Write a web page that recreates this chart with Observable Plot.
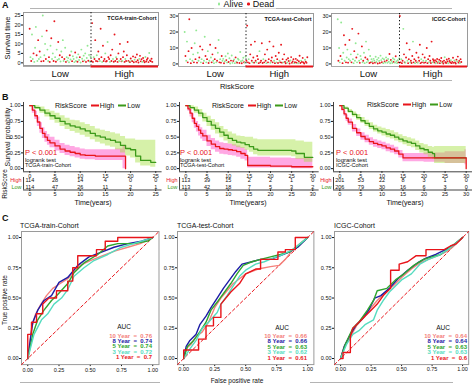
<!DOCTYPE html>
<html><head><meta charset="utf-8">
<script src="https://cdn.jsdelivr.net/npm/d3@7"></script>
<script src="https://cdn.jsdelivr.net/npm/@observablehq/plot@0.6"></script>
<style>
body{margin:0;background:#fff;font-family:"Liberation Sans",Arial,sans-serif;}
#root{position:relative;width:474px;height:385px;overflow:hidden;background:#fff;}
</style></head><body><div id="root"></div>
<script>
// ---------- data ----------
const cohorts = ["TCGA-train-Cohort","TCGA-test-Cohort","ICGC-Cohort"];
const statusLabels = ["Alive","Dead"];
const statusColors = ["#92e892","#e8161c"];
const riskGroups = ["High","Low"];
const riskColors = ["#e8141a","#3c9a1a"];

// Panel A: survival time (years) and status (1 = dead), patients ordered by risk score
const trainLowTime = [18,3,1,15,2,5,0.5,8,19,4, 1,12,2,6,3,0.8,14,25,1,4, 10,2,17,7,1,3,0.5,9,13,2, 5,1,22,3,0.6,7,1.5,11,2,4, 0.7,6,3,12,1,2,8,0.5,3,1.2, 2.5,0.3,4,1.8,6,0.9,3.5,2,0.4,5.5, 1,2.8,0.6,4.5,1.5,3,0.2,7,2.2,0.8, 3.8,1.3,5,0.5,2.6,9,1.1,4.2,0.7,3.2];
const trainLowDead = [1,0,1,0,0,1,0,0,0,1, 0,1,0,1,0,1,0,0,1,0, 0,1,1,0,0,1,1,0,1,0, 0,1,1,0,1,0,0,1,0,1, 0,0,1,0,0,1,0,1,0,0, 0,0,1,0,0,1,0,0,0,1, 0,0,1,0,0,1,0,0,0,1, 0,0,0,1,0,0,1,0,0,0];
const trainHighTime = [1,21,0.5,3,2,12,1,4,0.8,6, 2,1,18,3,0.5,9,1,2,5,0.7, 1,11,3,2,0.5,4,1,7,2,0.6, 15,1,3,2,0.5,5,1,10,2,0.8, 1,3,6,0.5,2,1,4,11,1,0.6, 0.4,2.3,1.2,0.9,3.4,0.3,1.7,2.9,0.6,4.4, 1.4,0.2,2.1,3.7,0.8,1.9,0.5,2.6,1.1,0.3, 3.1,0.7,1.6,2.4,0.4,5.2,1.3,0.9,2.2,0.5];
const trainHighDead = [1,1,1,0,1,1,1,0,1,1, 1,0,1,1,0,1,1,1,0,1, 1,0,1,1,0,1,1,1,0,1, 1,1,0,1,1,1,0,1,1,1, 0,1,1,1,0,1,1,1,1,0, 1,1,0,1,1,1,0,1,1,1, 1,1,0,1,1,1,0,1,1,1, 0,1,1,1,1,0,1,1,1,1];
const testLowTime = [20,5,2,14,1,8,28,3,0.5,10, 2,6,1,13,3,21,0.8,7,2,4, 11,1,3,9,0.5,2,17,5,1,3, 8,0.6,2,12,4,1,6,2,0.5,3, 10,1,2,7,15,1,3,0.8,5,2, 3.2,0.4,1.6,4.8,2.4,0.9,6.5,1.2,3.6,0.3, 2.1,5.3,0.7,1.9,2.8,0.5,4.1,1.4,0.8,3.3, 2.6,0.6,7.5,1.7,0.4,2.2,3.9,1.1,0.9,4.6];
const testLowDead = [0,1,0,0,1,1,1,0,1,1, 0,0,1,0,1,0,1,0,0,1, 1,0,0,1,1,0,0,1,0,1, 0,1,0,1,0,1,1,0,0,1, 1,0,1,0,0,1,0,1,1,0, 0,1,0,0,1,0,0,1,0,0, 1,0,0,1,0,0,1,0,1,0, 0,1,0,0,1,0,0,1,0,0];
const testHighTime = [2,24,1,3,0.5,6,12,2,1,4, 0.8,14,2,1,5,3,0.5,8,1,2, 13,0.6,3,1,6,2,0.5,9,1,3, 14,0.7,2,4,1,11,2,0.5,5,1, 3,0.6,7,2,1,12,0.8,3,1,6, 1.3,0.4,2.7,0.9,3.6,1.8,0.3,2.2,4.3,0.7, 1.5,2.9,0.5,1.1,3.2,0.8,2.4,0.4,1.7,5.1, 0.6,2.1,1.2,3.8,0.9,0.3,2.6,1.4,0.7,4.2];
const testHighDead = [1,1,1,0,1,1,1,1,0,1, 1,1,1,0,1,1,1,0,1,1, 1,1,0,1,1,1,0,1,1,1, 1,0,1,1,1,1,0,1,1,0, 1,1,1,0,1,1,1,1,0,1, 1,1,1,0,1,1,1,0,1,1, 1,1,0,1,1,1,1,0,1,1, 1,0,1,1,1,1,0,1,1,1];
const icgcLowTime = [28,2,10,1,5,26,3,0.5,7,18, 2,12,1,4,9,0.8,3,15,2,6, 1,22,3,0.5,8,2,13,4,1,6, 19,2,0.7,5,3,11,1,2,7,0.5, 4,14,1,3,2,9,0.6,5,1,3, 1.5,0.4,3.2,2.1,0.8,4.5,1.2,2.7,0.3,3.8, 1.9,0.6,5.2,2.4,1.1,3.5,0.5,2.9,1.6,0.9, 4.1,2.2,0.7,3.1,1.4,6.2,0.4,2.5,1.8,0.6, 3.6,1.3,2.8,0.8,4.8,1.7,0.5,2.3,1.0,3.4];
const icgcLowDead = [0,1,0,0,1,0,0,1,0,1, 0,1,1,0,0,1,0,1,0,0, 1,1,0,0,1,0,0,1,0,0, 1,0,1,0,0,1,0,1,0,0, 1,0,0,1,0,0,1,0,1,0, 0,1,0,0,1,0,0,0,1,0, 0,1,0,0,1,0,0,0,1,0, 0,1,0,0,0,1,0,1,0,0, 0,1,0,0,1,0,0,0,1,0];
const icgcHighTime = [30,1,3,0.5,2,22,6,1,0.8,4, 13,2,0.5,3,9,1,2,0.6,5,14, 1,3,0.5,2,7,1,0.8,4,2,12, 0.5,3,1,6,2,0.7,4,1,2,10, 0.5,3,1,5,2,0.6,14,1,3,2, 0.9,2.3,0.4,1.6,3.1,0.7,1.2,2.6,0.5,1.9, 3.7,0.8,1.4,0.3,2.1,4.2,1.1,0.6,2.8,1.5, 0.4,3.3,1.8,0.9,2.4,0.5,1.3,3.9,0.7,2.2, 1.0,0.3,2.7,1.6,4.6,0.8,1.9,0.6,3.0,1.2];
const icgcHighDead = [1,1,0,1,1,0,1,1,0,1, 1,0,1,1,1,0,1,1,1,0, 1,1,0,1,1,1,0,1,1,1, 1,0,1,1,0,1,1,1,0,1, 1,1,0,1,1,1,1,0,1,1, 1,1,0,1,1,1,0,1,1,1, 1,0,1,1,1,0,1,1,1,1, 0,1,1,1,0,1,1,1,1,0, 1,1,1,0,1,1,1,0,1,1];

// Panel B: Kaplan-Meier [time, survival, lower CI, upper CI]
const trainHighKM = [[0,1,1,1],[0.5,0.93,0.88,0.98],[1,0.84,0.78,0.91],[1.5,0.74,0.67,0.82],[2,0.64,0.56,0.73],[2.5,0.56,0.48,0.65],[3,0.5,0.42,0.59],[3.5,0.45,0.37,0.54],[4,0.41,0.33,0.5],[5,0.36,0.28,0.45],[6,0.31,0.24,0.4],[7,0.28,0.21,0.37],[8,0.26,0.19,0.35],[9,0.24,0.17,0.33],[10,0.22,0.15,0.31],[11,0.21,0.14,0.3],[13,0.2,0.13,0.3],[15,0.2,0.13,0.3],[17,0.2,0.13,0.31],[18.5,0.2,0,0.35],[19,0,0,0]];
const trainLowKM = [[0,1,1,1],[1,0.97,0.94,1],[2,0.93,0.88,0.98],[3,0.88,0.82,0.94],[4,0.84,0.77,0.91],[5,0.8,0.72,0.88],[6,0.75,0.67,0.84],[7,0.71,0.62,0.8],[8,0.68,0.59,0.77],[9,0.66,0.56,0.76],[10,0.63,0.53,0.73],[11,0.6,0.5,0.7],[12,0.56,0.46,0.67],[13,0.52,0.42,0.63],[14,0.5,0.39,0.61],[15,0.47,0.36,0.59],[16,0.45,0.34,0.57],[17,0.42,0.3,0.55],[18,0.37,0.25,0.51],[19,0.32,0.2,0.47],[20,0.3,0.17,0.47],[21,0.2,0.09,0.45],[22,0.13,0.04,0.45],[24,0.1,0.02,0.45],[25,0.1,0.02,0.45]];
const testHighKM = [[0,1,1,1],[0.5,0.95,0.91,0.99],[1,0.88,0.82,0.94],[1.5,0.8,0.73,0.87],[2,0.72,0.64,0.8],[2.5,0.67,0.58,0.75],[3,0.61,0.52,0.7],[3.5,0.56,0.47,0.65],[4,0.52,0.43,0.61],[5,0.44,0.35,0.53],[6,0.39,0.3,0.48],[7,0.35,0.26,0.44],[8,0.32,0.23,0.41],[9,0.31,0.22,0.4],[10,0.3,0.21,0.39],[11,0.29,0.2,0.38],[12,0.27,0.18,0.36],[13,0.24,0.15,0.33],[14,0.21,0.12,0.3],[14.6,0.05,0.01,0.18],[20,0.04,0.01,0.17],[25,0.03,0,0.16],[30,0.03,0,0.16]];
const testLowKM = [[0,1,1,1],[1,0.97,0.94,1],[2,0.93,0.88,0.98],[3,0.88,0.82,0.94],[4,0.81,0.74,0.88],[5,0.75,0.67,0.83],[6,0.69,0.61,0.78],[7,0.64,0.55,0.73],[8,0.58,0.49,0.67],[9,0.53,0.44,0.62],[10,0.48,0.39,0.58],[11,0.45,0.36,0.55],[12,0.42,0.33,0.52],[13,0.41,0.32,0.51],[14,0.38,0.29,0.5],[15,0.35,0.26,0.5],[16,0.31,0.22,0.47],[17,0.29,0.2,0.46],[20,0.29,0.2,0.46],[25,0.28,0.19,0.46],[26,0.24,0.15,0.44],[28,0.18,0.1,0.42],[30,0.18,0.1,0.42]];
const icgcHighKM = [[0,1,1,1],[0.5,0.94,0.91,0.97],[1,0.87,0.83,0.91],[1.5,0.8,0.75,0.85],[2,0.74,0.69,0.79],[3,0.64,0.58,0.7],[4,0.57,0.51,0.63],[5,0.51,0.45,0.57],[6,0.47,0.41,0.53],[7,0.43,0.37,0.49],[8,0.4,0.34,0.46],[9,0.38,0.32,0.44],[10,0.36,0.3,0.42],[11,0.33,0.27,0.39],[12,0.31,0.25,0.37],[13,0.28,0.22,0.34],[14,0.23,0.17,0.29],[15,0.17,0.11,0.24],[20,0.17,0.1,0.25],[25,0.17,0.08,0.27],[29.7,0.17,0.06,0.3],[30,0,0,0]];
const icgcLowKM = [[0,1,1,1],[1,0.96,0.94,0.98],[2,0.91,0.88,0.94],[3,0.86,0.82,0.9],[4,0.81,0.77,0.86],[5,0.76,0.72,0.81],[6,0.72,0.67,0.77],[7,0.67,0.62,0.73],[8,0.63,0.58,0.69],[9,0.6,0.55,0.66],[10,0.58,0.52,0.64],[11,0.55,0.49,0.62],[12,0.53,0.47,0.6],[13,0.5,0.44,0.57],[14,0.47,0.41,0.54],[15,0.44,0.38,0.51],[16,0.42,0.35,0.49],[17,0.4,0.33,0.47],[18,0.36,0.29,0.44],[19,0.32,0.25,0.4],[20,0.3,0.22,0.38],[21,0.26,0.18,0.35],[22,0.24,0.15,0.34],[22.5,0.17,0.08,0.35],[30,0.17,0.08,0.35]];

// numbers at risk
const trainRiskTimes = [0,5,10,15,20,25];
const trainRiskHigh = [114,28,14,4,0,0];
const trainRiskLow = [114,47,26,11,2,1];
const testRiskTimes = [0,5,10,15,20,25,30];
const testRiskHigh = [113,39,15,2,2,1,0];
const testRiskLow = [113,42,18,7,5,3,2];
const icgcRiskTimes = [0,5,10,15,20,25,30];
const icgcRiskHigh = [201,53,22,8,3,1,0];
const icgcRiskLow = [206,79,30,16,6,3,0];

// Panel C: ROC curves [FPR, TPR]
const yearLabels = ["10 Year","8 Year","5 Year","3 Year","1 Year"];
const yearColors = ["#f4817b","#1c1ca6","#2ea62e","#55dcc0","#e8141a"];
const trainAUC = [0.76,0.74,0.74,0.72,0.7];
const testAUC = [0.66,0.66,0.63,0.62,0.61];
const icgcAUC = [0.64,0.64,0.63,0.63,0.6];
const trainRoc10 = [[0,0],[0.03,0.25],[0.06,0.36],[0.1,0.44],[0.15,0.52],[0.2,0.58],[0.26,0.62],[0.32,0.66],[0.37,0.72],[0.42,0.77],[0.5,0.81],[0.6,0.85],[0.7,0.89],[0.8,0.92],[0.9,0.95],[1,1]];
const trainRoc8 = [[0,0],[0.04,0.3],[0.08,0.4],[0.13,0.48],[0.19,0.52],[0.25,0.63],[0.32,0.67],[0.4,0.77],[0.49,0.84],[0.59,0.88],[0.69,0.92],[0.8,0.95],[0.91,0.97],[1,1]];
const trainRoc5 = [[0,0],[0.04,0.2],[0.08,0.32],[0.13,0.4],[0.19,0.48],[0.24,0.53],[0.32,0.62],[0.37,0.71],[0.45,0.79],[0.56,0.86],[0.64,0.93],[0.72,0.95],[0.85,0.95],[0.96,0.97],[1,1]];
const trainRoc3 = [[0,0],[0.05,0.2],[0.11,0.32],[0.16,0.37],[0.21,0.45],[0.27,0.5],[0.32,0.57],[0.37,0.68],[0.45,0.75],[0.53,0.81],[0.64,0.86],[0.75,0.92],[0.88,0.96],[1,1]];
const trainRoc1 = [[0,0],[0,0.2],[0.03,0.2],[0.03,0.3],[0.07,0.3],[0.07,0.37],[0.12,0.37],[0.12,0.45],[0.17,0.5],[0.23,0.5],[0.23,0.56],[0.32,0.56],[0.32,0.64],[0.36,0.64],[0.36,0.75],[0.4,0.75],[0.4,0.85],[0.55,0.85],[0.55,0.9],[0.62,0.9],[0.62,0.97],[0.72,0.97],[0.72,1],[1,1]];
const testRoc10 = [[0,0],[0.02,0.08],[0.06,0.12],[0.1,0.18],[0.15,0.22],[0.2,0.3],[0.25,0.42],[0.3,0.5],[0.35,0.56],[0.4,0.62],[0.45,0.66],[0.5,0.7],[0.6,0.74],[0.7,0.76],[0.77,0.77],[0.82,0.82],[0.88,0.9],[0.95,0.96],[1,1]];
const testRoc8 = [[0,0],[0.02,0.1],[0.05,0.15],[0.1,0.2],[0.13,0.28],[0.18,0.35],[0.22,0.42],[0.27,0.5],[0.32,0.58],[0.37,0.65],[0.42,0.72],[0.47,0.78],[0.55,0.8],[0.62,0.82],[0.7,0.82],[0.78,0.85],[0.85,0.88],[0.92,0.92],[1,1]];
const testRoc5 = [[0,0],[0.03,0.1],[0.08,0.15],[0.13,0.22],[0.18,0.3],[0.22,0.4],[0.28,0.48],[0.33,0.55],[0.38,0.62],[0.43,0.7],[0.48,0.77],[0.55,0.8],[0.62,0.82],[0.7,0.84],[0.78,0.86],[0.85,0.88],[0.92,0.93],[1,1]];
const testRoc3 = [[0,0],[0.05,0.08],[0.1,0.15],[0.15,0.25],[0.2,0.3],[0.27,0.38],[0.3,0.45],[0.35,0.52],[0.4,0.6],[0.45,0.68],[0.5,0.73],[0.58,0.78],[0.65,0.8],[0.72,0.83],[0.8,0.86],[0.88,0.9],[1,1]];
const testRoc1 = [[0,0],[0,0.07],[0.12,0.07],[0.12,0.16],[0.18,0.16],[0.18,0.27],[0.24,0.27],[0.24,0.34],[0.3,0.34],[0.3,0.45],[0.38,0.55],[0.45,0.62],[0.5,0.7],[0.58,0.74],[0.62,0.74],[0.62,0.82],[0.76,0.82],[0.76,0.88],[0.82,0.88],[0.82,0.9],[0.9,0.9],[0.9,1],[0.95,1],[1,1]];
const icgcRoc10 = [[0,0],[0.03,0.1],[0.08,0.18],[0.13,0.27],[0.2,0.35],[0.25,0.42],[0.3,0.48],[0.37,0.55],[0.43,0.6],[0.5,0.67],[0.58,0.74],[0.65,0.79],[0.72,0.82],[0.8,0.85],[0.88,0.89],[0.95,0.95],[1,1]];
const icgcRoc8 = [[0,0],[0.03,0.1],[0.08,0.2],[0.13,0.28],[0.18,0.33],[0.23,0.4],[0.28,0.5],[0.33,0.52],[0.4,0.58],[0.47,0.66],[0.55,0.73],[0.63,0.79],[0.7,0.83],[0.78,0.86],[0.86,0.9],[0.93,0.94],[1,1]];
const icgcRoc5 = [[0,0],[0.04,0.12],[0.1,0.25],[0.15,0.3],[0.22,0.4],[0.27,0.48],[0.3,0.56],[0.38,0.58],[0.45,0.65],[0.52,0.7],[0.6,0.77],[0.68,0.82],[0.75,0.84],[0.82,0.86],[0.9,0.92],[1,1]];
const icgcRoc3 = [[0,0],[0.05,0.12],[0.1,0.2],[0.15,0.23],[0.2,0.28],[0.27,0.32],[0.3,0.4],[0.35,0.48],[0.4,0.55],[0.45,0.6],[0.5,0.65],[0.58,0.7],[0.65,0.78],[0.72,0.82],[0.8,0.85],[0.88,0.9],[1,1]];
const icgcRoc1 = [[0,0],[0.02,0],[0.02,0.05],[0.08,0.05],[0.08,0.18],[0.1,0.25],[0.15,0.3],[0.2,0.35],[0.25,0.4],[0.3,0.45],[0.35,0.52],[0.41,0.58],[0.41,0.73],[0.48,0.73],[0.48,0.78],[0.55,0.8],[0.62,0.85],[0.7,0.85],[0.7,0.9],[0.85,0.9],[0.9,0.93],[0.95,0.95],[1,1]];

// ---------- helpers ----------
const root = document.getElementById("root");
const FONT = '"Liberation Sans", Arial, sans-serif';

function mk(frame, pad, opts) {
  const width = frame.x1 - frame.x0 + pad.l + pad.r;
  const height = frame.y1 - frame.y0 + pad.t + pad.b;
  const svg = Plot.plot({
    ...opts, width, height,
    marginLeft: pad.l, marginRight: pad.r, marginTop: pad.t, marginBottom: pad.b,
    style: {background: "transparent", fontFamily: FONT, fontSize: "5.5px", color: "#111", overflow: "visible"}
  });
  const d = document.createElement("div");
  d.style.cssText = `position:absolute;left:${frame.x0 - pad.l}px;top:${frame.y0 - pad.t}px;width:${width}px;height:${height}px;`;
  d.appendChild(svg);
  root.appendChild(d);
}

function txt(s, x, y, o = {}) {
  const d = document.createElement("div");
  d.textContent = s;
  const tx = o.anchor === "end" ? "-100%" : o.anchor === "middle" || o.rotate ? "-50%" : "0";
  Object.assign(d.style, {
    position: "absolute", left: x + "px", top: y + "px", fontSize: (o.size || 7) + "px",
    color: o.color || "#111", fontWeight: o.weight || "normal", whiteSpace: "pre", lineHeight: "1",
    fontFamily: FONT, background: o.bg || "transparent",
    transform: `translate(${tx},-50%)` + (o.rotate ? " rotate(-90deg)" : "")
  });
  root.appendChild(d);
  return d;
}

function hline(x0, x1, y, color = "#b4b4b4") {
  const d = document.createElement("div");
  d.style.cssText = `position:absolute;left:${x0}px;top:${y}px;width:${x1 - x0}px;height:1px;background:${color};`;
  root.appendChild(d);
}

// ---------- Panel A ----------
function scatter(lowT, lowD, highT, highD, frame, yDom, yTicks, name) {
  const rows = [...lowT.map((t, i) => ({i: i + 1, t, d: lowD[i]})),
                ...highT.map((t, i) => ({i: lowT.length + i + 1, t, d: highD[i]}))];
  const n = rows.length, split = lowT.length + 0.5;
  const xDom = [1 - 0.05 * n, n + 0.05 * n];
  mk(frame, {l: 14, r: 2, t: 2, b: 2}, {
    x: {domain: xDom, axis: null},
    y: {domain: yDom, ticks: yTicks, tickSize: 2, tickPadding: 1, label: null},
    marks: [
      Plot.frame({stroke: "#9a9a9a"}),
      Plot.dot(rows, {x: "i", y: "t", r: 0.95, fill: d => statusColors[d.d], stroke: "none"}),
      Plot.ruleX([split], {stroke: "#111", strokeDasharray: "1.3,2.2", strokeWidth: 1}),
      Plot.text([name], {frameAnchor: "top-right", dx: -2, dy: 4, fontSize: 5.5, fontWeight: "bold"})
    ]
  });
  const groups = [
    {name: "Low", x1: xDom[0], x2: split, mid: (1 + lowT.length) / 2},
    {name: "High", x1: split, x2: xDom[1], mid: split + highT.length / 2 + 3}
  ];
  mk({x0: frame.x0, x1: frame.x1, y0: 66, y1: 76}, {l: 0, r: 0, t: 1, b: 4}, {
    x: {domain: xDom, axis: null},
    y: {domain: [0, 1], reverse: true, axis: null},
    marks: [
      Plot.ruleY([groups[0]], {y: () => 0, x1: "x1", x2: "x2", stroke: "#aaaaaa", strokeWidth: 1}),
      Plot.ruleY([groups[1]], {y: () => 0, x1: "x1", x2: "x2", stroke: "#e8141a", strokeWidth: 2}),
      Plot.text(groups, {x: "mid", y: () => 0.72, text: "name", fontSize: 9.5})
    ]
  });
}

hline(30, 452, 8);
hline(30, 452, 80);
scatter(trainLowTime, trainLowDead, trainHighTime, trainHighDead, {x0: 23, x1: 158, y0: 12, y1: 65}, [-1.4, 26.6], [0, 5, 10, 15, 20, 25], cohorts[0]);
scatter(testLowTime, testLowDead, testHighTime, testHighDead, {x0: 178, x1: 313, y0: 13, y1: 66}, [-1.6, 31.6], [0, 10, 20, 30], cohorts[1]);
scatter(icgcLowTime, icgcLowDead, icgcHighTime, icgcHighDead, {x0: 331, x1: 467, y0: 13, y1: 66}, [-1.6, 31.6], [0, 10, 20, 30], cohorts[2]);

txt("A", 2, 5, {size: 9, weight: "bold"});
txt("Survival time", 8, 38, {size: 7.5, rotate: true});
txt("RiskScore", 237, 87, {size: 7.5, anchor: "middle"});
{
  const lg = document.createElement("div");
  lg.style.cssText = `position:absolute;left:214px;top:4px;transform:translate(0,-50%);font:9px ${FONT};background:#fff;padding:0 2px;white-space:nowrap;line-height:1;color:#111;`;
  lg.innerHTML = statusLabels.map((s, i) =>
    `<span style="display:inline-block;width:2.4px;height:2.4px;border-radius:50%;background:${statusColors[i]};vertical-align:middle;margin:0 3px 0 2px"></span>${s}`).join(" ");
  root.appendChild(lg);
}

// ---------- Panel B ----------
function km(highKM, lowKM, frame, xDom, xTicks) {
  mk(frame, {l: 14, r: 2, t: 2, b: 7}, {
    x: {domain: xDom, ticks: xTicks, tickSize: 1.5, tickPadding: 0.5, label: null},
    y: {domain: [-0.05, 1.05], ticks: [0, 0.25, 0.5, 0.75, 1], tickFormat: ".2f", tickSize: 2, tickPadding: 1, label: null},
    marks: [
      Plot.areaY(highKM, {x: d => d[0], y1: d => d[2], y2: d => d[3], curve: "step-after", fill: "#ff3fc0", fillOpacity: 0.45}),
      Plot.areaY(lowKM, {x: d => d[0], y1: d => d[2], y2: d => d[3], curve: "step-after", fill: "#a4e040", fillOpacity: 0.45}),
      Plot.line(lowKM, {x: d => d[0], y: d => d[1], curve: "step-after", stroke: riskColors[1], strokeWidth: 1.3}),
      Plot.line(highKM, {x: d => d[0], y: d => d[1], curve: "step-after", stroke: riskColors[0], strokeWidth: 1.3}),
      Plot.ruleX([xDom[0]], {stroke: "#111", strokeWidth: 0.8}),
      Plot.ruleY([-0.05], {stroke: "#111", strokeWidth: 0.8})
    ]
  });
}
function riskTable(times, high, low, frame, xDom, xTicks) {
  const rows = [...times.map((t, i) => ({t, g: 0, n: high[i]})), ...times.map((t, i) => ({t, g: 1, n: low[i]}))];
  mk(frame, {l: 16, r: 2, t: 1, b: 7}, {
    x: {domain: xDom, ticks: xTicks, tickSize: 1.5, tickPadding: 0.5, label: null},
    y: {domain: [-0.5, 1.5], reverse: true, axis: null},
    marks: [
      Plot.text(rows, {x: "t", y: "g", text: d => String(d.n), fontSize: 5.5}),
      Plot.text(riskGroups, {y: (d, i) => i, frameAnchor: "left", textAnchor: "end", dx: -2, fill: (d, i) => riskColors[i], fontSize: 5.5}),
      Plot.ruleX([xDom[0]], {stroke: "#111", strokeWidth: 0.8}),
      Plot.ruleY([1.5], {stroke: "#111", strokeWidth: 0.8})
    ]
  });
}
function kmLegend(x, y) {
  const lg = document.createElement("div");
  lg.style.cssText = `position:absolute;left:${x}px;top:${y}px;transform:translate(0,-50%);font:7px ${FONT};white-space:nowrap;line-height:1;color:#111;`;
  lg.innerHTML = "RiskScore " + riskGroups.map((g, i) =>
    `<span style="display:inline-block;width:8px;height:1.6px;background:${riskColors[i]};vertical-align:middle;margin:0 1px 0 2px"></span>${g}`).join(" ");
  root.appendChild(lg);
}
function kmNotes(x, name) {
  txt("P < 0.001", x, 152.5, {size: 7.5, color: riskColors[0]});
  txt("logrank test", x, 159.5, {size: 6});
  txt(name, x, 166, {size: 5.5});
}

const kmFrames = [
  {x0: 22.7, x1: 161.3, dom: [-1.25, 26.25], ticks: [0, 5, 10, 15, 20, 25]},
  {x0: 178.65, x1: 318.35, dom: [-1.5, 31.5], ticks: [0, 5, 10, 15, 20, 25, 30]},
  {x0: 333, x1: 472, dom: [-1.5, 31.5], ticks: [0, 5, 10, 15, 20, 25, 30]}
];
const kmSets = [[trainHighKM, trainLowKM], [testHighKM, testLowKM], [icgcHighKM, icgcLowKM]];
const riskSets = [[trainRiskTimes, trainRiskHigh, trainRiskLow], [testRiskTimes, testRiskHigh, testRiskLow], [icgcRiskTimes, icgcRiskHigh, icgcRiskLow]];
kmFrames.forEach((f, k) => {
  km(kmSets[k][0], kmSets[k][1], {x0: f.x0, x1: f.x1, y0: 101.85, y1: 171.15}, f.dom, f.ticks);
  riskTable(riskSets[k][0], riskSets[k][1], riskSets[k][2], {x0: f.x0, x1: f.x1, y0: 177, y1: 189.5}, f.dom, f.ticks);
});
kmLegend(55, 105); kmLegend(212, 105); kmLegend(367, 104);
kmNotes(25, cohorts[0]); kmNotes(180, cohorts[1]); kmNotes(336, cohorts[2]);
txt("B", 2, 97, {size: 9, weight: "bold"});
txt("Survival probability", 7, 137, {size: 7, rotate: true});
txt("RiskScore", 5, 184, {size: 6.5, rotate: true});
txt("Time(years)", 93, 201.5, {size: 7, anchor: "middle"});
txt("Time(years)", 248, 201.5, {size: 7, anchor: "middle"});
txt("Time(years)", 405, 201.5, {size: 7, anchor: "middle"});

// ---------- Panel C ----------
function roc(curves, frame) {
  const dom = [-0.05, 1.05];
  const ax = {domain: dom, ticks: [0, 0.25, 0.5, 0.75, 1], tickFormat: ".2f", tickSize: 2, tickPadding: 1, label: null};
  mk(frame, {l: 13, r: 2, t: 1, b: 9}, {
    x: ax, y: ax,
    marks: [
      Plot.frame({stroke: "#9a9a9a"}),
      Plot.line(dom.map(v => [v, v]), {x: d => d[0], y: d => d[1], stroke: "#e8141a", strokeDasharray: "3,2.5", strokeWidth: 1}),
      ...curves.map((c, k) => Plot.line(c, {x: d => d[0], y: d => d[1], stroke: yearColors[k], strokeWidth: 1.4}))
    ]
  });
}
function aucLegend(aucs, right, cx, top) {
  txt("AUC", cx, top, {size: 6.5, anchor: "middle"});
  aucs.forEach((a, k) => txt(`${yearLabels[k]}  =  ${a}`, right, top + 8.5 + k * 5.4, {size: 6, color: yearColors[k], weight: "bold", anchor: "end"}));
}
roc([trainRoc10, trainRoc8, trainRoc5, trainRoc3, trainRoc1], {x0: 20.75, x1: 158.25, y0: 230.95, y1: 364.05});
roc([testRoc10, testRoc8, testRoc5, testRoc3, testRoc1], {x0: 176.8, x1: 313.2, y0: 230.95, y1: 364.05});
roc([icgcRoc10, icgcRoc8, icgcRoc5, icgcRoc3, icgcRoc1], {x0: 333.9, x1: 468.1, y0: 230.95, y1: 364.05});
aucLegend(trainAUC, 152, 124, 327);
aucLegend(testAUC, 307, 282, 327.5);
aucLegend(icgcAUC, 467, 443, 327.5);
txt("C", 2, 218, {size: 9, weight: "bold"});
txt(cohorts[0], 20, 225, {size: 7});
txt(cohorts[1], 177, 225, {size: 7});
txt(cohorts[2], 334, 225, {size: 7});
txt("True positive rate", 5, 300, {size: 6.5, rotate: true});
hline(20, 160, 382);
hline(310, 453, 382);
txt("False positive rate", 237, 381, {size: 6.5, anchor: "middle", bg: "#fff"});
</script></body></html>
